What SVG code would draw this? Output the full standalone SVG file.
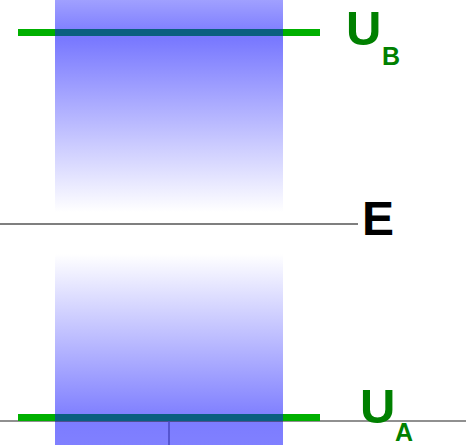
<svg xmlns="http://www.w3.org/2000/svg" width="466" height="445" viewBox="0 0 466 445">
<defs>
<linearGradient id="gTop" x1="0" y1="0" x2="0" y2="1">
<stop offset="0" stop-color="#a0a0ff"/>
<stop offset="0.18" stop-color="#7878ff"/>
<stop offset="1" stop-color="#ffffff"/>
</linearGradient>
<linearGradient id="gBot" x1="0" y1="0" x2="0" y2="1">
<stop offset="0" stop-color="#ffffff"/>
<stop offset="0.87" stop-color="#7c7cff"/>
<stop offset="1" stop-color="#8080ff"/>
</linearGradient>
<style>
.lvl{stroke:#00b000;stroke-width:7}
.ovl{stroke:#0a5f80;stroke-width:7}
.lab{font-family:"Liberation Sans",Arial,sans-serif;font-weight:bold;fill:#008000}
</style>
</defs>
<g id="band-top"><rect x="55" y="0" width="228" height="212" fill="url(#gTop)"/></g>
<g id="band-bottom"><rect x="55" y="254" width="228" height="191" fill="url(#gBot)"/></g>
<g id="connectors">
<line x1="0" y1="224" x2="358" y2="224" stroke="#555" stroke-width="1.5"/>
<line x1="0" y1="421" x2="466" y2="421" stroke="#222" stroke-width="1.2"/>
<line x1="169" y1="421" x2="169" y2="445" stroke="#4848c0" stroke-width="1.5"/>
</g>
<g id="UB">
<line class="lvl" x1="18" y1="32.5" x2="320" y2="32.5"/>
<line class="ovl" x1="55" y1="32.5" x2="283" y2="32.5"/>
<text class="lab" x="346" y="45" font-size="49">U</text>
<text class="lab" x="382" y="65" font-size="25">B</text>
</g>
<g id="UA">
<line class="lvl" x1="18" y1="417.5" x2="320" y2="417.5"/>
<line class="ovl" x1="55" y1="417.5" x2="283" y2="417.5"/>
<text class="lab" x="360" y="423" font-size="49">U</text>
<text class="lab" x="395" y="441" font-size="25">A</text>
</g>
<g id="E"><text x="362" y="235" font-family="Liberation Sans,Arial,sans-serif" font-weight="bold" font-size="48" fill="#000">E</text></g>
</svg>
